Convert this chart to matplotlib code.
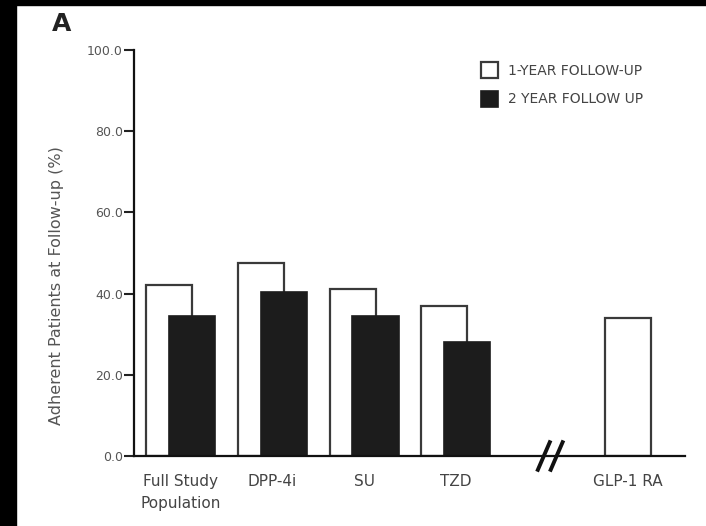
import matplotlib
matplotlib.use("Agg")
import matplotlib.pyplot as plt
import numpy as np

# ---- data ----
categories = ["Full Study\nPopulation", "DPP-4i", "SU", "TZD", "GLP-1 RA"]
positions = [0, 1, 2, 3, 5]
year1 = [42.1, 47.5, 41.1, 36.9, 34.0]
year2 = [34.5, 40.4, 34.5, 28.1, None]
series_labels = ["1-YEAR FOLLOW-UP", "2 YEAR FOLLOW UP"]
yticks = [0, 20, 40, 60, 80, 100]

plt.rcParams['font.family'] = ['DejaVu Sans']

W, H = 706, 526
fig = plt.figure(figsize=(W / 100, H / 100), dpi=100)
fig.patch.set_facecolor("white")

# black border strips seen in the reference
fig.patches.append(plt.Rectangle((0, 0), 16 / W, 1, transform=fig.transFigure,
                                 color="black", zorder=10))
fig.patches.append(plt.Rectangle((0, 1 - 5 / H), 1, 5 / H, transform=fig.transFigure,
                                 color="black", zorder=10))

left, right, top, bottom = 134, 685, 50, 456
ax = fig.add_axes([left / W, (H - bottom) / H, (right - left) / W, (bottom - top) / H])

bw = 0.505
off = 0.125
x = np.array(positions, dtype=float)

b1 = ax.bar(x - off, year1, width=bw, facecolor="white", edgecolor="#3a3a3a",
            linewidth=1.6, zorder=2)
x2 = [p + off for p, v in zip(positions, year2) if v is not None]
v2 = [v for v in year2 if v is not None]
b2 = ax.bar(x2, v2, width=bw, facecolor="#1c1c1c", edgecolor="#1c1c1c",
            linewidth=1.2, zorder=3)

ax.set_xlim(-0.51, 5.5)
ax.set_ylim(0, 100)

ax.set_yticks(yticks)
ax.set_yticklabels([f"{t:.1f}" for t in yticks])
tick_x = [p if v is not None else p - off for p, v in zip(positions, year2)]
ax.set_xticks(tick_x)
ax.set_xticklabels(categories)

ax.tick_params(axis="y", direction="out", length=7, width=1.5, pad=1,
               labelsize=9, labelcolor="#555555", color="#222222")
ax.tick_params(axis="x", length=0, pad=13, labelsize=11, labelcolor="#444444")
for lbl in ax.get_xticklabels():
    lbl.set_linespacing(1.55)

for s in ["top", "right"]:
    ax.spines[s].set_visible(False)
for s in ["left", "bottom"]:
    ax.spines[s].set_linewidth(1.6)
    ax.spines[s].set_color("#111111")
    ax.spines[s].set_zorder(4)

# axis break mark
break_pos = 4.03
for dx in (-0.07, 0.07):
    ax.plot([break_pos + dx - 0.065, break_pos + dx + 0.065], [-3.4, 3.4],
            color="#111111", lw=2.8, clip_on=False, zorder=5)

# legend
fig.legend([b1, b2], series_labels, loc="upper left",
           bbox_to_anchor=(481 / W, 1 - 62 / H), frameon=False,
           fontsize=10, handlelength=1.2, handleheight=1.4,
           handletextpad=0.75, labelspacing=0.9, borderpad=0, borderaxespad=0,
           labelcolor="#444444")

fig.text(57 / W, 1 - 286 / H, "Adherent Patients at Follow-up (%)", rotation=90,
         ha="center", va="center", fontsize=11.5, color="#555555")
fig.text(62 / W, 1 - 24 / H, "A", ha="center", va="center", fontsize=18,
         fontweight="bold", color="#222222")

fig.savefig("out.png", dpi=100, facecolor="white")
